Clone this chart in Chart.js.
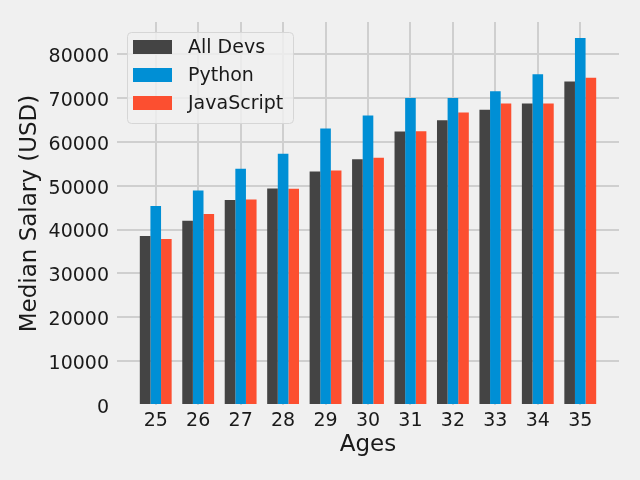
<!DOCTYPE html>
<html><head><meta charset="utf-8">
<script src="https://cdn.jsdelivr.net/npm/chart.js@4/dist/chart.umd.min.js"></script>
<style>html,body{margin:0;padding:0;background:#f0f0f0}#wrap{width:640px;height:480px}</style>
</head><body><div id="wrap"><canvas id="c" width="640" height="480"></canvas></div>
<script>
const ages = [25, 26, 27, 28, 29, 30, 31, 32, 33, 34, 35];
const devY = [38496, 42000, 46752, 49320, 53200, 56000, 62316, 64928, 67317, 68748, 73752];
const pyY = [45372, 48876, 53850, 57287, 63016, 65998, 70003, 70000, 71496, 75370, 83640];
const jsY = [37810, 43515, 46823, 49293, 53437, 56373, 62375, 66674, 68745, 68746, 74583];
const yTicks = [0, 10000, 20000, 30000, 40000, 50000, 60000, 70000, 80000];
const seriesNames = ['All Devs', 'Python', 'JavaScript'];
const colors = ['#444444', '#008fd5', '#fc4f30'];

const FONT = "'DejaVu Sans', sans-serif";
const toPts = arr => arr.map((v, i) => ({x: ages[i], y: v}));
const yMax = 87300;
const span = ages[ages.length-1] - ages[0] + 0.75;
const xMin = ages[0] - 0.375 - 0.05 * span;
const xMax = ages[ages.length-1] + 0.375 + 0.05 * span;

const legendPlugin = {
  id: 'mplLegend',
  afterDraw(chart) {
    const ctx = chart.ctx;
    ctx.save();
    const x = 127, y = 32, w = 166, h = 91, r = 4;
    ctx.beginPath();
    ctx.roundRect(x + 0.5, y + 0.5, w, h, r);
    ctx.fillStyle = 'rgba(240,240,240,0.8)';
    ctx.fill();
    ctx.strokeStyle = '#d6d6d6';
    ctx.lineWidth = 1;
    ctx.stroke();
    ctx.font = '19px ' + FONT;
    ctx.textBaseline = 'middle';
    chart.data.datasets.forEach((ds, i) => {
      const cy = 47 + i * 28;
      ctx.fillStyle = ds.backgroundColor;
      ctx.fillRect(133, cy - 7, 39, 14);
      ctx.fillStyle = '#1a1a1a';
      ctx.fillText(ds.label, 188, cy + 1);
    });
    ctx.restore();
  }
};

const bg = {
  id: 'bg',
  beforeDraw(chart) {
    const ctx = chart.ctx;
    ctx.save();
    ctx.fillStyle = '#f0f0f0';
    ctx.fillRect(0, 0, chart.width, chart.height);
    ctx.restore();
  }
};

new Chart(document.getElementById('c'), {
  type: 'bar',
  data: {
    datasets: [
      {label: seriesNames[0], data: toPts(devY), backgroundColor: colors[0]},
      {label: seriesNames[1], data: toPts(pyY), backgroundColor: colors[1]},
      {label: seriesNames[2], data: toPts(jsY), backgroundColor: colors[2]}
    ]
  },
  options: {
    responsive: false,
    animation: false,
    layout: {padding: {top: 22, right: 21, left: 0, bottom: 0}},
    datasets: {bar: {categoryPercentage: 0.75, barPercentage: 1.0, borderWidth: 0}},
    plugins: {legend: {display: false}, tooltip: {enabled: false}},
    scales: {
      x: {
        type: 'linear', min: xMin, max: xMax, offset: false,
        afterBuildTicks: ax => { ax.ticks = ages.map(v => ({value: v})); },
        afterFit: ax => { ax.height = 75; },
        grid: {color: '#cfcfcf', lineWidth: 2, drawTicks: false, offset: false},
        border: {display: false},
        ticks: {color: '#1a1a1a', font: {family: FONT, size: 19}, padding: 5, autoSkip: false, maxRotation: 0,
                callback: v => String(v)},
        title: {display: true, text: 'Ages', color: '#1a1a1a', font: {family: FONT, size: 23}, padding: {top: 0, bottom: 21}}
      },
      y: {
        type: 'linear', min: 0, max: yMax,
        afterBuildTicks: ax => { ax.ticks = yTicks.map(v => ({value: v})); },
        afterFit: ax => { ax.width = 117; },
        grid: {color: c => (c.tick && c.tick.value === 0) ? 'rgba(0,0,0,0)' : '#cfcfcf', lineWidth: 2, drawTicks: false},
        border: {display: false},
        ticks: {color: '#1a1a1a', font: {family: FONT, size: 19}, padding: 8, labelOffset: 3, callback: v => String(v)},
        title: {display: true, text: 'Median Salary (USD)', color: '#1a1a1a', font: {family: FONT, size: 23}, padding: {top: 16, bottom: 0}}
      }
    }
  },
  plugins: [bg, legendPlugin]
});
</script>
</body></html>
